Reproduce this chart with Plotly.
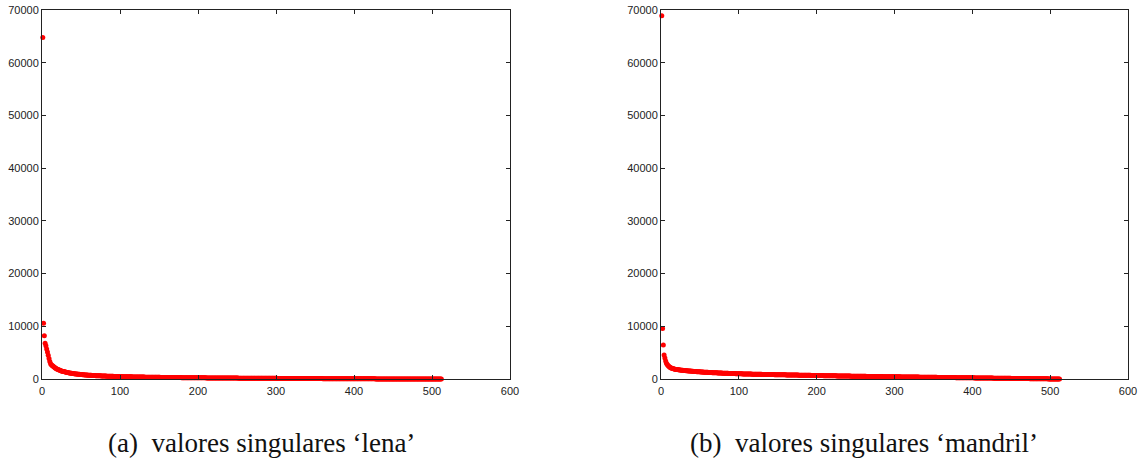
import plotly.graph_objects as go
from plotly.subplots import make_subplots

lena_sv = [
    64800, 10570, 8200, 6800, 6300, 5700, 5100, 4500, 3900, 3300, 2900, 2700, 2580, 2460, 2340, 2220, 2110, 2010, 1920, 1840,
    1770, 1700, 1640, 1580, 1530, 1480, 1440, 1400, 1360, 1320, 1285, 1250, 1218, 1188, 1160, 1132, 1105, 1080, 1056, 1033,
    1011, 990, 970, 951, 933, 915, 898, 882, 866, 851, 836, 822, 808, 795, 782, 770, 758, 746, 735, 724,
    713, 703, 693, 683, 674, 665, 656, 647, 639, 631, 623, 615, 608, 601, 594, 587, 580, 573, 567, 561,
    555, 549, 543, 537, 531, 526, 520, 515, 510, 505, 500, 495, 490, 485, 481, 476, 472, 467, 463, 459,
    455, 451, 447, 443, 439, 435, 431, 428, 424, 421, 417, 414, 410, 407, 404, 401, 397, 394, 391, 388,
    385, 382, 379, 376, 373, 371, 368, 365, 362, 360, 357, 354, 352, 349, 347, 344, 342, 339, 337, 335,
    332, 330, 328, 325, 323, 321, 319, 317, 314, 312, 310, 308, 306, 304, 302, 300, 298, 296, 294, 292,
    290, 288, 287, 285, 283, 281, 279, 278, 276, 274, 272, 271, 269, 267, 266, 264, 262, 261, 259, 258,
    256, 254, 253, 251, 250, 248, 247, 245, 244, 242, 241, 239, 238, 236, 235, 233, 232, 231, 229, 228,
    226, 225, 224, 222, 221, 220, 218, 217, 216, 214, 213, 212, 210, 209, 208, 207, 205, 204, 203, 202,
    200, 199, 198, 197, 196, 194, 193, 192, 191, 190, 188, 187, 186, 185, 184, 183, 182, 180, 179, 178,
    177, 176, 175, 174, 173, 172, 171, 169, 168, 167, 166, 165, 164, 163, 162, 161, 160, 159, 158, 157,
    156, 155, 154, 153, 152, 151, 150, 149, 148, 147, 146, 145, 144, 143, 142, 141, 140, 139, 138, 137,
    136, 136, 135, 134, 133, 132, 131, 130, 129, 128, 127, 126, 126, 125, 124, 123, 122, 121, 120, 119,
    119, 118, 117, 116, 115, 114, 113, 113, 112, 111, 110, 109, 108, 108, 107, 106, 105, 104, 103, 103,
    102, 101, 100, 99, 98, 98, 97, 96, 95, 94, 94, 93, 92, 91, 90, 90, 89, 88, 87, 86,
    86, 85, 84, 83, 83, 82, 81, 80, 79, 79, 78, 77, 76, 76, 75, 74, 73, 73, 72, 71,
    70, 70, 69, 68, 67, 67, 66, 65, 64, 64, 63, 62, 61, 61, 60, 59, 58, 58, 57, 56,
    56, 55, 54, 53, 53, 52, 51, 50, 50, 49, 48, 48, 47, 46, 45, 45, 44, 43, 43, 42,
    41, 40, 40, 39, 38, 38, 37, 36, 36, 35, 34, 34, 33, 32, 32, 31, 30, 30, 29, 28,
    28, 27, 27, 26, 25, 25, 24, 23, 23, 22, 22, 21, 20, 20, 19, 19, 18, 17, 17, 16,
    16, 15, 15, 14, 14, 13, 13, 12, 12, 11, 11, 10, 10, 9.5, 9.1, 8.7, 8.3, 7.9, 7.5, 7.1,
    6.8, 6.5, 6.2, 5.9, 5.6, 5.3, 5.0, 4.8, 4.5, 4.3, 4.1, 3.9, 3.7, 3.5, 3.3, 3.1, 2.9, 2.8, 2.6, 2.5,
    2.3, 2.2, 2.1, 2.0, 1.9, 1.8, 1.7, 1.6, 1.5, 1.4, 1.3, 1.2, 1.1, 1.0, 0.95, 0.9, 0.85, 0.8, 0.75, 0.7,
    0.65, 0.6, 0.55, 0.5, 0.45, 0.4, 0.35, 0.3, 0.25, 0.2, 0.15, 0.1,
]

mandril_sv = [
    68900, 9600, 6450, 4550, 4000, 3400, 3000, 2750, 2550, 2400, 2280, 2180, 2100, 2030, 1980, 1930, 1890, 1855, 1825, 1800,
    1780, 1760, 1740, 1720, 1700, 1682, 1665, 1648, 1632, 1616, 1600, 1585, 1570, 1555, 1540, 1526, 1512, 1498, 1485, 1472,
    1459, 1446, 1434, 1422, 1410, 1398, 1387, 1376, 1365, 1354, 1343, 1333, 1323, 1313, 1303, 1293, 1284, 1275, 1266, 1257,
    1248, 1239, 1231, 1223, 1215, 1207, 1199, 1191, 1183, 1176, 1169, 1162, 1155, 1148, 1141, 1134, 1127, 1120, 1114, 1108,
    1102, 1096, 1090, 1084, 1078, 1072, 1066, 1060, 1054, 1048, 1042, 1036, 1031, 1026, 1021, 1016, 1011, 1006, 1001, 996,
    991, 986, 981, 976, 971, 966, 962, 958, 954, 950, 946, 942, 938, 934, 930, 926, 922, 918, 914, 910,
    906, 902, 898, 894, 890, 887, 884, 881, 878, 875, 872, 869, 866, 863, 860, 857, 854, 851, 848, 845,
    842, 839, 836, 833, 830, 827, 824, 821, 818, 815, 812, 809, 806, 803, 800, 797, 794, 791, 788, 785,
    782, 779, 776, 773, 770, 767, 764, 761, 758, 755, 752, 749, 746, 743, 740, 737, 734, 731, 728, 725,
    722, 719, 716, 713, 710, 707, 704, 701, 698, 695, 692, 689, 686, 683, 680, 677, 674, 671, 668, 665,
    662, 659, 656, 653, 650, 647, 645, 642, 639, 636, 633, 631, 628, 625, 622, 619, 617, 614, 611, 608,
    606, 603, 600, 597, 595, 592, 589, 587, 584, 581, 579, 576, 573, 571, 568, 566, 563, 560, 558, 555,
    553, 550, 548, 545, 543, 540, 538, 535, 533, 530, 528, 525, 523, 520, 518, 515, 513, 511, 508, 506,
    503, 501, 499, 496, 494, 492, 489, 487, 485, 482, 480, 478, 476, 473, 471, 469, 467, 464, 462, 460,
    458, 456, 453, 451, 449, 447, 445, 443, 441, 438, 436, 434, 432, 430, 428, 426, 424, 422, 420, 418,
    416, 414, 412, 410, 408, 406, 404, 402, 400, 398, 396, 394, 392, 390, 388, 386, 384, 382, 380, 378,
    376, 374, 372, 370, 368, 366, 364, 362, 360, 358, 356, 354, 352, 350, 348, 346, 344, 342, 340, 338,
    336, 334, 332, 330, 328, 326, 324, 322, 320, 318, 316, 314, 312, 310, 308, 306, 304, 302, 300, 298,
    296, 294, 292, 290, 288, 286, 284, 282, 280, 278, 276, 274, 272, 270, 268, 266, 264, 262, 260, 258,
    256, 254, 252, 250, 248, 246, 244, 242, 240, 238, 236, 234, 232, 230, 228, 226, 224, 222, 220, 218,
    216, 214, 212, 210, 208, 206, 204, 202, 200, 198, 196, 194, 192, 190, 188, 186, 184, 182, 180, 178,
    176, 174, 172, 170, 168, 166, 164, 162, 160, 158, 156, 154, 152, 150, 148, 146, 144, 142, 140, 138,
    136, 134, 132, 130, 128, 126, 124, 122, 120, 118, 116, 114, 112, 110, 108, 106, 104, 102, 100, 98,
    96, 94, 92, 90, 88, 86, 84, 82, 80, 78, 76, 74, 72, 70, 68, 66, 64, 62, 60, 58,
    56, 54, 52, 50, 48, 46, 44, 42, 40, 38, 36, 34, 32, 30, 28, 26, 24, 22, 20, 18,
    16, 14, 12, 10, 9, 8, 7, 6, 5, 4, 3, 2,
]

x_ticks = [0, 100, 200, 300, 400, 500, 600]
y_ticks = [0, 10000, 20000, 30000, 40000, 50000, 60000, 70000]
y_ticktext = ["0", "10000", "20000", "30000", "40000", "50000", "60000", "70000"]
captions = ["(a)  valores singulares \u2018lena\u2019", "(b)  valores singulares \u2018mandril\u2019"]

W, H = 1142, 475
fig = make_subplots(rows=1, cols=2)

for i, vals in enumerate([lena_sv, mandril_sv]):
    idx = list(range(1, len(vals) + 1))
    fig.add_trace(go.Scatter(x=idx, y=vals, mode="markers",
                             marker=dict(color="#ff0000", size=5, line=dict(width=0)),
                             showlegend=False, cliponaxis=False, hoverinfo="skip"),
                  row=1, col=i + 1)

axis_common = dict(showgrid=False, zeroline=False, showline=True, mirror="ticks",
                   linecolor="#222", linewidth=1, ticks="inside", ticklen=4,
                   tickcolor="#222", automargin=False,
                   tickfont=dict(family="Liberation Sans", size=11, color="#222"))

def px_x(p):
    return p / W

def px_y(p):
    return 1 - p / H

x_domains = [[px_x(42), px_x(510)], [px_x(661), px_x(1128)]]
y_domain = [px_y(379), px_y(10)]
for i in range(2):
    fig.update_xaxes(domain=x_domains[i], range=[0, 600], tickvals=x_ticks,
                     ticklabelstandoff=2, row=1, col=i + 1, **axis_common)
    fig.update_yaxes(domain=y_domain, range=[0, 70000], tickvals=y_ticks,
                     ticktext=y_ticktext, row=1, col=i + 1, **axis_common)

cap_x = [px_x(261), px_x(864)]
for i in range(2):
    fig.add_annotation(text=captions[i], x=cap_x[i], y=px_y(443), xref="paper", yref="paper",
                       showarrow=False, xanchor="center", yanchor="middle",
                       font=dict(family="Liberation Serif", size=27, color="#111"))

fig.update_layout(width=W, height=H, margin=dict(l=0, r=0, t=0, b=0),
                  plot_bgcolor="white", paper_bgcolor="white", hovermode=False)

fig.write_html("out.html", config={"displayModeBar": False},
               post_script="document.body.style.margin='0';document.body.style.overflow='hidden';")
